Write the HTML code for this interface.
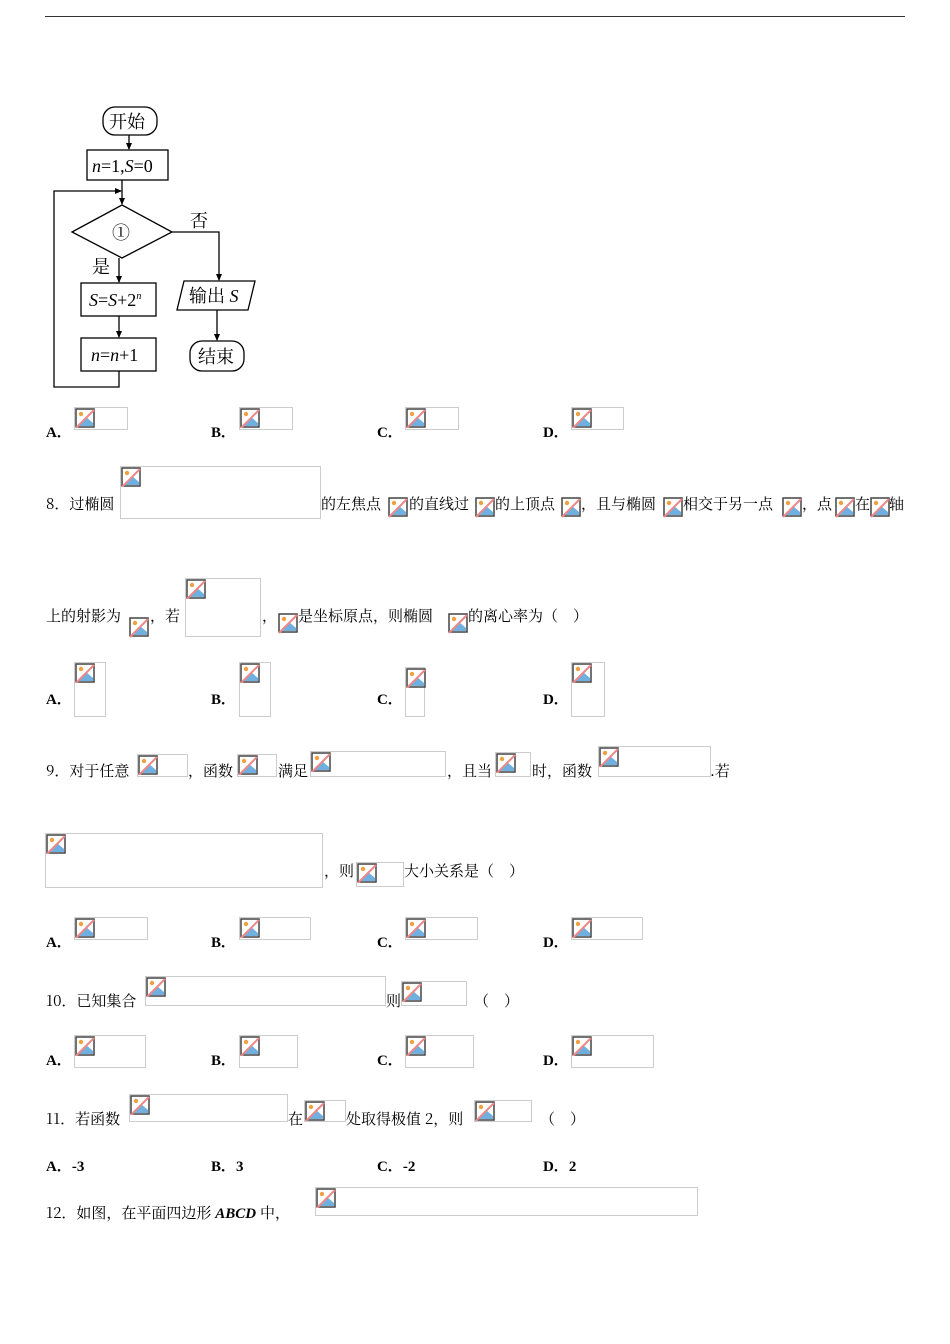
<!DOCTYPE html>
<html><head><meta charset="utf-8"><style>
body{margin:0;width:950px;height:1344px;background:#fff;position:relative;overflow:hidden;font-family:"Noto Serif CJK SC","Liberation Serif",serif;font-size:15px;color:#000}
.t{position:absolute;white-space:nowrap;line-height:20px;margin-top:1px}
.b{position:absolute;border:1px solid #ccc;box-sizing:border-box}
.b svg,.i svg{position:absolute;left:0;top:0}
.i{position:absolute;width:20px;height:21px}
.L{font-weight:bold;font-family:"Liberation Serif","Noto Serif CJK SC",serif}
</style></head><body>
<svg width="0" height="0" style="position:absolute"><defs><g id="ic"><rect x="1" y="1" width="18" height="18" fill="#fff" stroke="#444" stroke-width="1.5"/><polygon points="2,18 11,9 18,15 18,18" fill="#6fb0e0"/><circle cx="6" cy="6" r="2.2" fill="#f0a040"/><line x1="1" y1="20" x2="19" y2="2" stroke="#e88" stroke-width="2"/></g></defs></svg>
<div style="position:absolute;left:45px;top:16px;width:860px;height:1px;background:#333"></div>

<svg style="position:absolute;left:0;top:0" width="300" height="400" font-family="Liberation Serif,Noto Serif CJK SC,serif" font-size="18">
<defs><marker id="a" markerWidth="8" markerHeight="8" refX="6" refY="4" orient="auto" markerUnits="userSpaceOnUse"><path d="M0,1 L7,4 L0,7 z" fill="#000"/></marker></defs>
<g stroke="#000" stroke-width="1.3" fill="none">
<rect x="103" y="107" width="54" height="28" rx="12"/>
<rect x="87" y="150" width="81" height="30"/>
<polygon points="72,232 122,205 172,232 122,258"/>
<rect x="81" y="283" width="75" height="33"/>
<rect x="81" y="338" width="75" height="33"/>
<polygon points="184,281 255,281 248,310 177,310"/>
<rect x="190" y="341" width="54" height="30" rx="12"/>
<line x1="129" y1="135" x2="129" y2="149" marker-end="url(#a)"/>
<line x1="122" y1="180" x2="122" y2="204" marker-end="url(#a)"/>
<polyline points="119,371 119,387 54,387 54,191 121,191" marker-end="url(#a)"/>
<line x1="119" y1="258" x2="119" y2="282" marker-end="url(#a)"/>
<line x1="119" y1="316" x2="119" y2="337" marker-end="url(#a)"/>
<polyline points="172,232 219,232 219,280" marker-end="url(#a)"/>
<line x1="217" y1="310" x2="217" y2="340" marker-end="url(#a)"/>
</g>
<text x="109" y="128">开始</text>
<text x="92" y="172"><tspan font-style="italic">n</tspan>=1,<tspan font-style="italic">S</tspan>=0</text>
<text x="112" y="239">①</text>
<text x="190" y="227">否</text>
<text x="92" y="273">是</text>
<text x="89" y="306"><tspan font-style="italic">S</tspan>=<tspan font-style="italic">S</tspan>+2<tspan font-size="10" dy="-7" font-style="italic">n</tspan></text>
<text x="91" y="361"><tspan font-style="italic">n</tspan>=<tspan font-style="italic">n</tspan>+1</text>
<text x="189" y="302">输出 <tspan font-style="italic">S</tspan></text>
<text x="198" y="363">结束</text>
</svg>

<div class="t L" style="left:46px;top:422px">A．</div><div class="b" style="left:74px;top:407px;width:54px;height:23px"><svg width="20" height="20"><use href="#ic"/></svg></div>
<div class="t L" style="left:211px;top:422px">B．</div><div class="b" style="left:239px;top:407px;width:54px;height:23px"><svg width="20" height="20"><use href="#ic"/></svg></div>
<div class="t L" style="left:377px;top:422px">C．</div><div class="b" style="left:405px;top:407px;width:54px;height:23px"><svg width="20" height="20"><use href="#ic"/></svg></div>
<div class="t L" style="left:543px;top:422px">D．</div><div class="b" style="left:571px;top:407px;width:53px;height:23px"><svg width="20" height="20"><use href="#ic"/></svg></div>

<div class="t" style="left:46px;top:493px">8．过椭圆</div>
<div class="b" style="left:120px;top:466px;width:201px;height:53px"><svg width="20" height="20"><use href="#ic"/></svg></div>
<div class="t" style="left:321px;top:493px">的左焦点</div><div class="i" style="left:388px;top:497px"><svg width="20" height="21"><use href="#ic"/></svg></div>
<div class="t" style="left:409px;top:493px">的直线过</div><div class="i" style="left:475px;top:497px"><svg width="20" height="21"><use href="#ic"/></svg></div>
<div class="t" style="left:495px;top:493px">的上顶点</div><div class="i" style="left:561px;top:497px"><svg width="20" height="21"><use href="#ic"/></svg></div>
<div class="t" style="left:581px;top:493px">，且与椭圆</div><div class="i" style="left:663px;top:497px"><svg width="20" height="21"><use href="#ic"/></svg></div>
<div class="t" style="left:683px;top:493px">相交于另一点</div><div class="i" style="left:782px;top:497px"><svg width="20" height="21"><use href="#ic"/></svg></div>
<div class="t" style="left:802px;top:493px">，点</div><div class="i" style="left:835px;top:497px"><svg width="20" height="21"><use href="#ic"/></svg></div>
<div class="t" style="left:855px;top:493px">在</div><div class="i" style="left:870px;top:497px"><svg width="20" height="21"><use href="#ic"/></svg></div>
<div class="t" style="left:889px;top:493px">轴</div>

<div class="t" style="left:46px;top:605px">上的射影为</div><div class="i" style="left:129px;top:617px"><svg width="20" height="21"><use href="#ic"/></svg></div>
<div class="t" style="left:150px;top:605px">，若</div>
<div class="b" style="left:185px;top:578px;width:76px;height:59px"><svg width="20" height="20"><use href="#ic"/></svg></div>
<div class="t" style="left:262px;top:605px">，</div><div class="i" style="left:278px;top:613px"><svg width="20" height="21"><use href="#ic"/></svg></div>
<div class="t" style="left:298px;top:605px">是坐标原点，则椭圆</div><div class="i" style="left:448px;top:613px"><svg width="20" height="21"><use href="#ic"/></svg></div>
<div class="t" style="left:468px;top:605px">的离心率为（　）</div>

<div class="t L" style="left:46px;top:689px">A．</div><div class="b" style="left:74px;top:662px;width:32px;height:55px"><svg width="20" height="20"><use href="#ic"/></svg></div>
<div class="t L" style="left:211px;top:689px">B．</div><div class="b" style="left:239px;top:662px;width:32px;height:55px"><svg width="20" height="20"><use href="#ic"/></svg></div>
<div class="t L" style="left:377px;top:689px">C．</div><div class="b" style="left:405px;top:667px;width:20px;height:50px"><svg width="20" height="20"><use href="#ic"/></svg></div>
<div class="t L" style="left:543px;top:689px">D．</div><div class="b" style="left:571px;top:662px;width:34px;height:55px"><svg width="20" height="20"><use href="#ic"/></svg></div>

<div class="t" style="left:46px;top:760px">9．对于任意</div>
<div class="b" style="left:137px;top:754px;width:51px;height:23px"><svg width="20" height="20"><use href="#ic"/></svg></div>
<div class="t" style="left:188px;top:760px">，函数</div>
<div class="b" style="left:237px;top:754px;width:40px;height:23px"><svg width="20" height="20"><use href="#ic"/></svg></div>
<div class="t" style="left:278px;top:760px">满足</div>
<div class="b" style="left:310px;top:751px;width:136px;height:26px"><svg width="20" height="20"><use href="#ic"/></svg></div>
<div class="t" style="left:447px;top:760px">，且当</div>
<div class="b" style="left:495px;top:752px;width:36px;height:25px"><svg width="20" height="20"><use href="#ic"/></svg></div>
<div class="t" style="left:532px;top:760px">时，函数</div>
<div class="b" style="left:598px;top:746px;width:113px;height:31px"><svg width="20" height="20"><use href="#ic"/></svg></div>
<div class="t" style="left:710px;top:760px">.若</div>

<div class="b" style="left:45px;top:833px;width:278px;height:55px"><svg width="20" height="20"><use href="#ic"/></svg></div>
<div class="t" style="left:324px;top:860px">，则</div>
<div class="b" style="left:356px;top:862px;width:48px;height:25px"><svg width="20" height="20"><use href="#ic"/></svg></div>
<div class="t" style="left:404px;top:860px">大小关系是（　）</div>

<div class="t L" style="left:46px;top:932px">A．</div><div class="b" style="left:74px;top:917px;width:74px;height:23px"><svg width="20" height="20"><use href="#ic"/></svg></div>
<div class="t L" style="left:211px;top:932px">B．</div><div class="b" style="left:239px;top:917px;width:72px;height:23px"><svg width="20" height="20"><use href="#ic"/></svg></div>
<div class="t L" style="left:377px;top:932px">C．</div><div class="b" style="left:405px;top:917px;width:73px;height:23px"><svg width="20" height="20"><use href="#ic"/></svg></div>
<div class="t L" style="left:543px;top:932px">D．</div><div class="b" style="left:571px;top:917px;width:72px;height:23px"><svg width="20" height="20"><use href="#ic"/></svg></div>

<div class="t" style="left:46px;top:990px">10．已知集合</div>
<div class="b" style="left:145px;top:976px;width:241px;height:30px"><svg width="20" height="20"><use href="#ic"/></svg></div>
<div class="t" style="left:386px;top:990px">则</div>
<div class="b" style="left:401px;top:981px;width:66px;height:25px"><svg width="20" height="20"><use href="#ic"/></svg></div>
<div class="t" style="left:474px;top:990px">（　）</div>

<div class="t L" style="left:46px;top:1050px">A．</div><div class="b" style="left:74px;top:1035px;width:72px;height:33px"><svg width="20" height="20"><use href="#ic"/></svg></div>
<div class="t L" style="left:211px;top:1050px">B．</div><div class="b" style="left:239px;top:1035px;width:59px;height:33px"><svg width="20" height="20"><use href="#ic"/></svg></div>
<div class="t L" style="left:377px;top:1050px">C．</div><div class="b" style="left:405px;top:1035px;width:69px;height:33px"><svg width="20" height="20"><use href="#ic"/></svg></div>
<div class="t L" style="left:543px;top:1050px">D．</div><div class="b" style="left:571px;top:1035px;width:83px;height:33px"><svg width="20" height="20"><use href="#ic"/></svg></div>

<div class="t" style="left:46px;top:1108px">11．若函数</div>
<div class="b" style="left:129px;top:1094px;width:159px;height:28px"><svg width="20" height="20"><use href="#ic"/></svg></div>
<div class="t" style="left:288px;top:1108px">在</div>
<div class="b" style="left:304px;top:1100px;width:42px;height:22px"><svg width="20" height="20"><use href="#ic"/></svg></div>
<div class="t" style="left:346px;top:1108px">处取得极值 2，则</div>
<div class="b" style="left:474px;top:1100px;width:58px;height:22px"><svg width="20" height="20"><use href="#ic"/></svg></div>
<div class="t" style="left:540px;top:1108px">（　）</div>

<div class="t L" style="left:46px;top:1156px">A．-3</div>
<div class="t L" style="left:211px;top:1156px">B．3</div>
<div class="t L" style="left:377px;top:1156px">C．-2</div>
<div class="t L" style="left:543px;top:1156px">D．2</div>

<div class="t" style="left:46px;top:1202px">12．如图，在平面四边形 <b><i style="font-family:'Liberation Serif',serif">ABCD</i></b> 中，</div>
<div class="b" style="left:315px;top:1187px;width:383px;height:29px"><svg width="20" height="20"><use href="#ic"/></svg></div>
</body></html>
